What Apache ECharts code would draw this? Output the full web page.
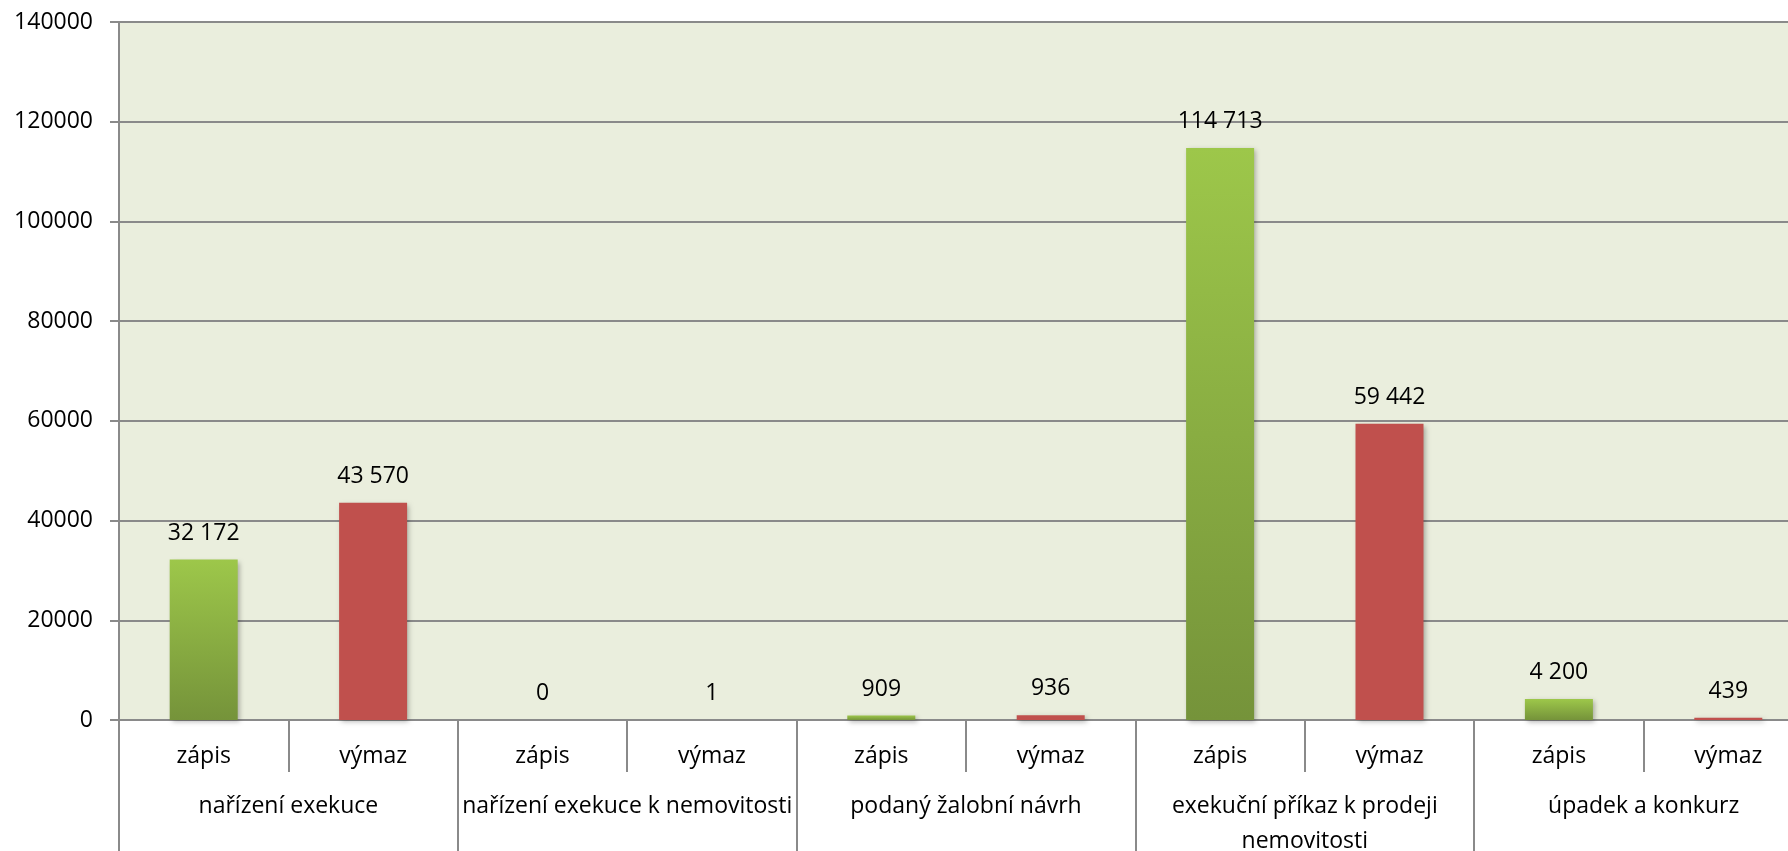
<!DOCTYPE html>
<html>
<head>
<meta charset="utf-8">
<script src="https://cdn.jsdelivr.net/npm/echarts@6/dist/echarts.min.js"></script>
<style>
html,body{margin:0;padding:0;background:#fff;}
#c{width:1788px;height:851px;}
</style>
</head>
<body>
<div id="c"></div>
<script>
const subCategories = ['zápis','výmaz','zápis','výmaz','zápis','výmaz','zápis','výmaz','zápis','výmaz'];
const groupCategories = ['nařízení exekuce','nařízení exekuce k nemovitosti','podaný žalobní návrh','exekuční příkaz k prodeji\nnemovitosti','úpadek a konkurz'];
const values = [32172, 43570, 0, 1, 909, 936, 114713, 59442, 4200, 439];
const yTicks = { min: 0, max: 140000, interval: 20000 };

const FONT = 'Open Sans';
const GRAY = '#8a8a8a';
const greenGrad = new echarts.graphic.LinearGradient(0,0,0,1,[
  {offset:0,color:'#9dc74a'},{offset:1,color:'#75933a'}]);
const red = '#c0504d';

function fmt(v){ return String(v).replace(/\B(?=(\d{3})+(?!\d))/g, ' '); }

const chart = echarts.init(document.getElementById('c'), null, {renderer:'canvas'});
chart.setOption({
  backgroundColor:'#ffffff',
  animation:false,
  textStyle:{fontFamily:FONT},
  grid:{left:119, top:22, width:1694, bottom:131, show:true, backgroundColor:'#eaeedd', borderWidth:0,
    containLabel:false, outerBoundsMode:'none'},
  yAxis:{
    type:'value', min:yTicks.min, max:yTicks.max, interval:yTicks.interval,
    axisLine:{show:true, lineStyle:{color:GRAY, width:2}},
    axisTick:{show:true, length:9, lineStyle:{color:GRAY, width:2}},
    axisLabel:{fontSize:23, color:'#000', margin:26, fontFamily:FONT, formatter:v=>String(v)},
    splitLine:{show:true, lineStyle:{color:GRAY, width:2}}
  },
  xAxis:[{
    type:'category', data:subCategories, position:'bottom', boundaryGap:true,
    axisLine:{show:true, lineStyle:{color:GRAY, width:2}},
    axisTick:{show:true, interval:0, length:52, lineStyle:{color:GRAY, width:2}},
    axisLabel:{interval:0, fontSize:23, color:'#000', margin:25, fontFamily:FONT}
  },{
    type:'category', data:groupCategories, position:'bottom', boundaryGap:true,
    axisLine:{show:false},
    axisTick:{show:true, interval:0, length:140, lineStyle:{color:GRAY, width:2}},
    axisLabel:{interval:0, fontSize:23, color:'#000', margin:69, lineHeight:35,
      overflow:'none', fontFamily:FONT}
  }],
  series:[{
    type:'bar', xAxisIndex:0, barWidth:68,
    data: values.map((v,i)=>({value:v, itemStyle:{color: i%2===0 ? greenGrad : red}})),
    itemStyle:{shadowBlur:5, shadowColor:'rgba(0,0,0,0.3)', shadowOffsetX:2, shadowOffsetY:2},
    label:{show:true, position:'top', distance:15, fontSize:23, color:'#000', fontFamily:FONT,
      formatter:p=>fmt(p.value)}
  }]
});
</script>
</body>
</html>
